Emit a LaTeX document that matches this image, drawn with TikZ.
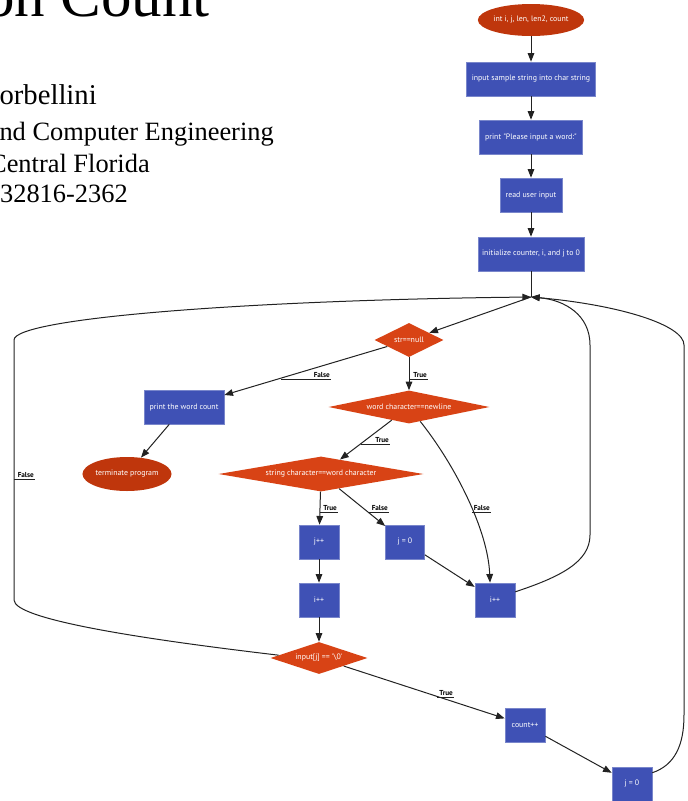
\documentclass[tikz,border=0pt]{standalone}
\usepackage{fontspec}
\setmainfont{Liberation Serif}
\newfontfamily\uisans{PT Sans}
\usetikzlibrary{shapes.geometric,arrows.meta}
\definecolor{boxblue}{HTML}{3F51B5}
\definecolor{boxedge}{HTML}{7986CB}
\definecolor{diaor}{HTML}{D84315}
\definecolor{ellred}{HTML}{BF360C}
\definecolor{edgec}{HTML}{222222}
\begin{document}
\begin{tikzpicture}[x=0.75pt,y=-0.75pt,
  nodefont/.style={font=\uisans\fontsize{5.9}{7}\selectfont},
  box/.style={rectangle,draw=boxedge,line width=0.5pt,fill=boxblue,text=white,nodefont,inner sep=0pt,minimum height=25.5pt},
  dia/.style={diamond,fill=diaor,text=white,nodefont,inner sep=0pt},
  ell/.style={ellipse,fill=ellred,text=white,nodefont,inner sep=0pt},
  wd/.style={minimum width={#1*0.75pt}},
  ht/.style={minimum height={#1*0.75pt}},
  conn/.style={draw=edgec,line width=0.75pt},
  flow/.style={conn,-{Triangle[length=6.5pt,width=5pt]}},
  lbl/.style={font=\uisans\bfseries\fontsize{5.4}{6}\selectfont,text=black,anchor=south east,inner sep=0.7pt},
  uline/.style={draw=edgec,line width=0.6pt},
  paper/.style={inner sep=0pt,anchor=base east}
]
\useasboundingbox (0,0) rectangle (688,801);
\clip (0,0) rectangle (688,801);

% page fragments
\node[paper,font=\fontsize{45.75}{46}\selectfont] (title) at (210,16) {on Count};
\node[paper,font=\fontsize{21.5}{22}\selectfont] (auth) at (97,104) {orbellini};
\node[paper,font=\fontsize{19.8}{20}\selectfont] (dept) at (274,140) {nd Computer Engineering};
\node[paper,font=\fontsize{19.8}{20}\selectfont] (univ) at (150,172) {Central Florida};
\node[paper,font=\fontsize{19.8}{20}\selectfont] (zip) at (128,202) {32816-2362};

% nodes
\node[ell,wd=99,ht=32] (start) at (531,20) {int i, j, len, len2, count};
\node[box,wd=129] (b1) at (531,79) {input sample string into char string};
\node[box,wd=103] (b2) at (531,137) {print "Please input a word:"};
\node[box,wd=62] (b3) at (531,195) {read user input};
\node[box,wd=106] (b4) at (531,254) {initialize counter, i, and j to 0};
\coordinate (m) at (531,297);

\node[dia,wd=69,ht=34,aspect=2.03] (null) at (409,340) {str==null};
\node[dia,wd=161,ht=33,aspect=4.88] (nl) at (409,407) {word character==newline};
\node[box,wd=80] (print) at (184,407) {print the word count};
\node[ell,wd=89,ht=34] (term) at (127,474) {terminate program};
\node[dia,wd=205,ht=35,aspect=5.86] (sc) at (321,474) {string character==word character};
\node[box,wd=40] (jpp) at (319,542) {j++};
\node[box,wd=39] (j0) at (405,542) {j = 0};
\node[box,wd=40] (iL) at (319,600) {i++};
\node[box,wd=40] (iR) at (495,600) {i++};
\node[dia,wd=97,ht=32,aspect=3.03] (in) at (319,658) {input[j] == '\textbackslash 0'};
\node[box,wd=40] (cnt) at (525,725) {count++};
\node[box,wd=40] (j0b) at (632,784) {j = 0};

% connectors
\draw[flow] (start) -- (b1);
\draw[flow] (b1) -- (b2);
\draw[flow] (b2) -- (b3);
\draw[flow] (b3) -- (b4);
\draw[conn] (b4.south) -- (m);
\draw[flow] (m) -- (null);
\draw[flow] (null) -- (print);
\draw[flow] (null) -- (nl);
\draw[flow] (print) -- (term);
\draw[flow] (nl) -- (sc);
\draw[flow] (nl.-52) .. controls (455,465) and (488,530) .. (iR.106);
\draw[flow] (sc) -- (jpp);
\draw[flow] (sc) -- (j0);
\draw[flow] (jpp) -- (iL);
\draw[flow] (j0) -- (iR);
\draw[flow] (iL) -- (in);
\draw[flow] (in) -- (cnt);
\draw[flow] (cnt) -- (j0b);
\draw[flow] (in.176) .. controls (150,640) and (14,620) .. (14,600) -- (14,340) .. controls (14,318) and (250,300) .. (m);
\draw[flow] (iR.22) .. controls (560,577) and (590,562) .. (590,535) -- (590,345) .. controls (590,315) and (565,300) .. (m);
\draw[flow] (j0b.29) .. controls (675,765) and (684,745) .. (684,715) -- (684,345) .. controls (684,325) and (620,305) .. (m);

% edge labels
\node[lbl] (l1) at (331,379) {False};
\coordinate (u1) at (281,379);
\draw[uline] (u1) -- (l1.south east);
\node[lbl] (l2) at (428,379) {True};
\coordinate (u2) at (409,379);
\draw[uline] (u2) -- (l2.south east);
\node[lbl] (l3) at (390,444) {True};
\coordinate (u3) at (361,444);
\draw[uline] (u3) -- (l3.south east);
\node[lbl] (l4) at (338,512) {True};
\coordinate (u4) at (320,512);
\draw[uline] (u4) -- (l4.south east);
\node[lbl] (l5) at (389,512) {False};
\coordinate (u5) at (368,512);
\draw[uline] (u5) -- (l5.south east);
\node[lbl] (l6) at (491,512) {False};
\coordinate (u6) at (472,512);
\draw[uline] (u6) -- (l6.south east);
\node[lbl] (l7) at (454,697) {True};
\coordinate (u7) at (437,697);
\draw[uline] (u7) -- (l7.south east);
\node[lbl] (l8) at (35,479) {False};
\coordinate (u8) at (14,479);
\draw[uline] (u8) -- (l8.south east);
\end{tikzpicture}
\end{document}
